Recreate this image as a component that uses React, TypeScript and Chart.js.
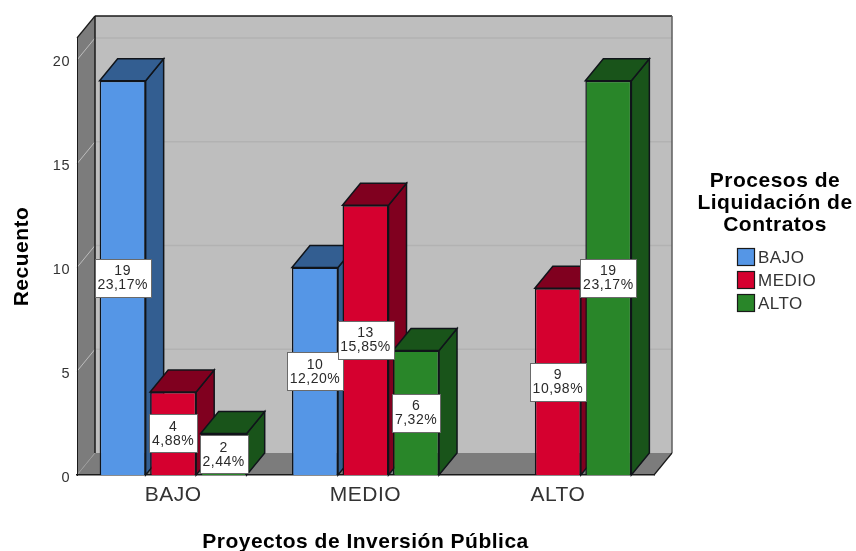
import React, { useEffect, useRef } from "react";
import { Chart, registerables } from "chart.js";

Chart.register(...registerables);

const categories = ["BAJO", "MEDIO", "ALTO"];
const seriesNames = ["BAJO", "MEDIO", "ALTO"];
const bajoCounts = [19, 10, null];
const medioCounts = [4, 13, 9];
const altoCounts = [2, 6, 19];
const bajoPercents = ["23,17%", "12,20%", ""];
const medioPercents = ["4,88%", "15,85%", "10,98%"];
const altoPercents = ["2,44%", "7,32%", "23,17%"];
const yTicks = [0, 5, 10, 15, 20];
const legendTitle = ["Procesos de", "Liquidación de", "Contratos"];

const FRONT = ["#5596E6", "#D5002F", "#298629"];
const SIDE = ["#335E91", "#80001F", "#19541A"];
const PERCENTS = [bajoPercents, medioPercents, altoPercents];

const DEPTH_X = 18;
const DEPTH_Y = 22;
const FONT = "'Liberation Sans', Arial, sans-serif";
const EDGE = "#10141A";

type Pt = [number, number];

function poly(ctx: CanvasRenderingContext2D, pts: Pt[], fill: string | null, stroke?: string, lw = 1) {
  ctx.beginPath();
  pts.forEach(([x, y], i) => (i ? ctx.lineTo(x, y) : ctx.moveTo(x, y)));
  ctx.closePath();
  if (fill) {
    ctx.fillStyle = fill;
    ctx.fill();
  }
  if (stroke) {
    ctx.strokeStyle = stroke;
    ctx.lineWidth = lw;
    ctx.stroke();
  }
}

function line(ctx: CanvasRenderingContext2D, a: Pt, b: Pt, color: string, lw: number) {
  ctx.beginPath();
  ctx.moveTo(a[0], a[1]);
  ctx.lineTo(b[0], b[1]);
  ctx.strokeStyle = color;
  ctx.lineWidth = lw;
  ctx.stroke();
}

// Back wall, left wall, floor and their gridlines, projected from the chart area.
const boxPlugin = {
  id: "box3d",
  beforeDraw(chart: any) {
    const { ctx, chartArea: a, scales } = chart;
    const { left: l, right: r, top: t, bottom: b } = a;
    const dx = DEPTH_X;
    const dy = DEPTH_Y;
    // Slightly open tracking for every label on the canvas, axes included.
    ctx.letterSpacing = "0.5px";
    ctx.save();
    poly(ctx, [[l + dx, t - dy], [r + dx, t - dy], [r + dx, b - dy], [l + dx, b - dy]], "#BEBEBE");
    poly(ctx, [[l, t], [l + dx, t - dy], [l + dx, b - dy], [l, b]], "#7C7C7C");
    poly(ctx, [[l, b], [l + dx, b - dy], [r + dx, b - dy], [r, b]], "#7C7C7C");
    for (const v of yTicks) {
      if (v === 0) continue;
      const y = scales.y.getPixelForValue(v);
      line(ctx, [l, y], [l + dx, y - dy], "#BDBDBD", 1);
      line(ctx, [l + dx, y - dy], [r + dx, y - dy], "#B2B2B2", 1.5);
    }
    line(ctx, [l, b], [l + dx, b - dy], "#9A9A9A", 1);
    line(ctx, [l + dx, t - dy], [r + dx, t - dy], "#1A1A1A", 1.5);
    line(ctx, [l + dx, t - dy], [l + dx, b - dy], "#1A1A1A", 1.5);
    line(ctx, [l, t], [l + dx, t - dy], "#1A1A1A", 1.2);
    line(ctx, [r + dx, t - dy], [r + dx, b - dy], "#5E5E5E", 1.5);
    line(ctx, [r, b], [r + dx, b - dy], "#1A1A1A", 1.2);
    ctx.restore();
  },
  // Bars go left to right within a group, so each front covers its neighbour's side face.
  beforeDatasetsDraw(chart: any) {
    const { ctx } = chart;
    const lw = 1.5;
    ctx.save();
    chart.data.datasets.forEach((ds: any, di: number) => {
      const meta = chart.getDatasetMeta(di);
      meta.data.forEach((bar: any, i: number) => {
        if (ds.data[i] == null) return;
        const { x, y, base, width } = bar.getProps(["x", "y", "base", "width"], true);
        const x0 = x - width / 2;
        const x1 = x + width / 2;
        poly(ctx, [[x1, y], [x1 + DEPTH_X, y - DEPTH_Y], [x1 + DEPTH_X, base - DEPTH_Y], [x1, base]], SIDE[di], EDGE, lw);
        poly(ctx, [[x0, y], [x0 + DEPTH_X, y - DEPTH_Y], [x1 + DEPTH_X, y - DEPTH_Y], [x1, y]], SIDE[di], EDGE, lw);
        bar.draw(ctx);
      });
    });
    ctx.restore();
  },
  beforeDatasetDraw() {
    return false;
  },
  // Value boxes and the legend block sit above everything else.
  afterDatasetsDraw(chart: any) {
    const { ctx, chartArea } = chart;
    ctx.save();
    ctx.font = `14px ${FONT}`;
    ctx.textAlign = "center";
    ctx.textBaseline = "middle";
    chart.data.datasets.forEach((ds: any, di: number) => {
      const meta = chart.getDatasetMeta(di);
      meta.data.forEach((bar: any, i: number) => {
        const value = ds.data[i];
        if (value == null) return;
        const { x, y, base } = bar.getProps(["x", "y", "base"], true);
        const cy = (y + base) / 2;
        const pct = PERCENTS[di][i];
        const w = Math.round(ctx.measureText(pct).width + 6);
        const h = 38;
        const bx = Math.round(x - w / 2) + 0.5;
        const by = Math.round(cy - h / 2) + 0.5;
        ctx.fillStyle = "#FFFFFF";
        ctx.fillRect(bx, by, w, h);
        ctx.strokeStyle = "#6A6A6A";
        ctx.lineWidth = 1;
        ctx.strokeRect(bx, by, w, h);
        ctx.fillStyle = "#2A2A2A";
        ctx.fillText(String(value), x, cy - 6.5);
        ctx.fillText(pct, x, cy + 7.5);
      });
    });

    const cx = chartArea.right + 121;
    ctx.font = `bold 21px ${FONT}`;
    ctx.fillStyle = "#000000";
    legendTitle.forEach((text, i) => ctx.fillText(text, cx, 181 + i * 22));
    ctx.textAlign = "left";
    ctx.font = `17px ${FONT}`;
    chart.data.datasets.forEach((ds: any, di: number) => {
      const y = 248.5 + di * 23;
      ctx.fillStyle = FRONT[di];
      ctx.fillRect(737.5, y, 17, 17);
      ctx.strokeStyle = "#1A1A1A";
      ctx.lineWidth = 1.2;
      ctx.strokeRect(737.5, y, 17, 17);
      ctx.fillStyle = "#333333";
      ctx.fillText(ds.label, 758, y + 9.5);
    });
    ctx.restore();
  },
};

export default function App() {
  const ref = useRef<HTMLCanvasElement>(null);

  useEffect(() => {
    const chart = new Chart(ref.current!, {
      type: "bar",
      data: {
        labels: categories,
        datasets: [bajoCounts, medioCounts, altoCounts].map((data, i) => ({
          label: seriesNames[i],
          data,
          backgroundColor: FRONT[i],
          borderColor: EDGE,
          borderWidth: 1.5,
          categoryPercentage: 0.788,
          barPercentage: 0.911,
        })),
      },
      options: {
        responsive: false,
        animation: false,
        layout: { padding: { top: 38, right: 202, left: 0, bottom: 0 } },
        plugins: { legend: { display: false }, tooltip: { enabled: false } },
        scales: {
          x: {
            grid: { display: false, drawTicks: false },
            border: { display: true, color: "#1A1A1A", width: 1.5 },
            ticks: { color: "#333333", padding: 8, font: { family: FONT, size: 21 } },
            title: {
              display: true,
              text: "Proyectos de Inversión Pública",
              color: "#000000",
              font: { family: FONT, size: 21, weight: "bold", lineHeight: 1 },
              padding: { top: 0, bottom: -2 },
            },
            afterFit: (s: any) => {
              s.height = 76;
            },
          },
          y: {
            min: 0,
            max: 21.06,
            grid: { display: false, drawTicks: false },
            border: { display: true, color: "#1A1A1A", width: 1 },
            afterBuildTicks: (s: any) => {
              s.ticks = yTicks.map((value) => ({ value }));
            },
            ticks: { color: "#333333", padding: 7, labelOffset: 2.5, font: { family: FONT, size: 14.5 } },
            title: {
              display: true,
              text: "Recuento",
              color: "#000000",
              font: { family: FONT, size: 21, weight: "bold", lineHeight: 1 },
              padding: { top: 12, bottom: 0 },
            },
            afterFit: (s: any) => {
              s.width = 77;
            },
          },
        },
      },
      plugins: [boxPlugin],
    });
    return () => chart.destroy();
  }, []);

  return (
    <div style={{ position: "absolute", left: 0, top: 0, width: 856, height: 551 }}>
      <canvas ref={ref} width={856} height={551} style={{ display: "block" }} />
    </div>
  );
}
